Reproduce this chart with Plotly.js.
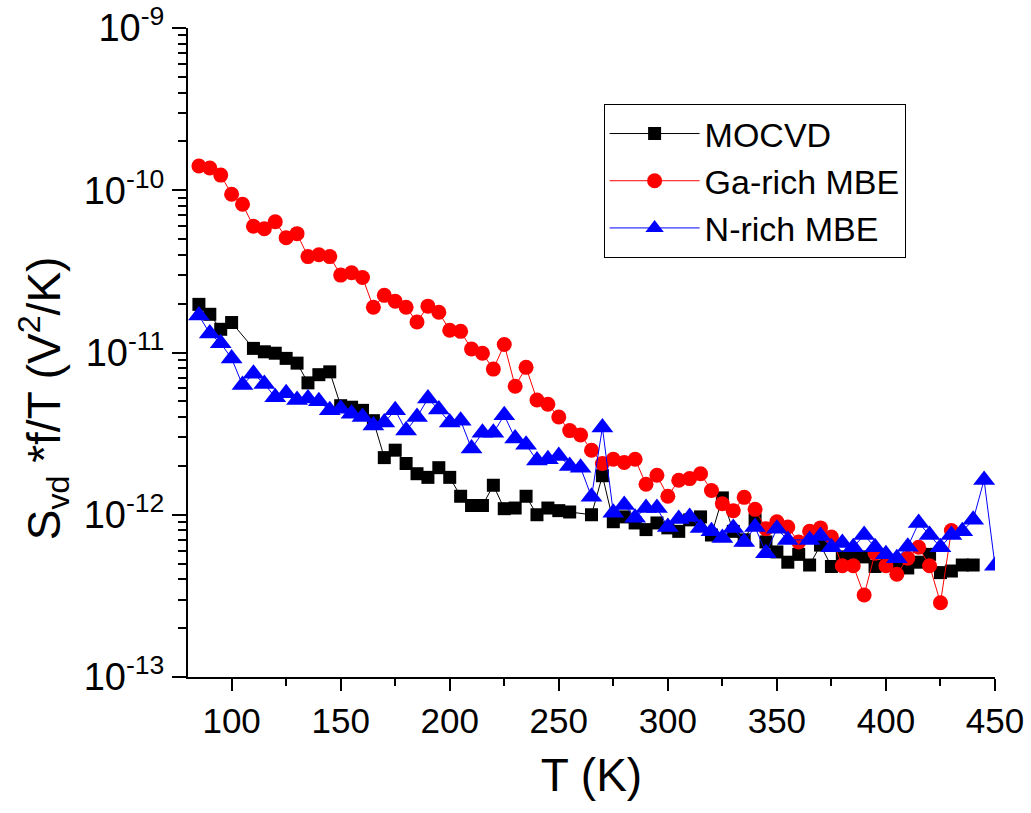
<!DOCTYPE html>
<html>
<head>
<meta charset="utf-8">
<script src="https://cdn.plot.ly/plotly-3.0.1.min.js"></script>
<style>html,body{margin:0;padding:0;background:#fff;}</style>
</head>
<body>
<div id="chart" style="width:1031px;height:813px;"></div>
<script>
// MOCVD
const tMOCVD = [85,90,95,100,110,115,120,125,130,135,140,145,150,155,160,165,170,175,180,185,190,195,200,205,210,215,220,225,230,235,240,245,250,255,265,270,275,280,285,290,295,300,305,310,315,320,325,330,335,340,345,350,355,360,365,370,375,380,385,390,395,400,405,410,415,420,425,430,435,440];
const sMOCVD = [1.98e-11,1.72e-11,1.39e-11,1.53e-11,1.06e-11,1.01e-11,9.9e-12,9.2e-12,8.6e-12,6.5e-12,7.3e-12,7.6e-12,4.7e-12,4.6e-12,4.4e-12,3.8e-12,2.25e-12,2.5e-12,2.07e-12,1.79e-12,1.7e-12,1.95e-12,1.7e-12,1.3e-12,1.14e-12,1.14e-12,1.52e-12,1.09e-12,1.1e-12,1.3e-12,1.0e-12,1.1e-12,1.06e-12,1.04e-12,1.0e-12,1.74e-12,9.06e-13,9.7e-13,8.9e-13,8.1e-13,8.9e-13,8.3e-13,7.9e-13,9.3e-13,9.7e-13,7.5e-13,1.27e-12,7.9e-13,7.0e-13,9.3e-13,6.8e-13,5.9e-13,5.1e-13,5.7e-13,4.9e-13,6.5e-13,4.8e-13,5.5e-13,5.4e-13,5.5e-13,4.8e-13,4.9e-13,4.9e-13,4.7e-13,5.1e-13,5.7e-13,4.4e-13,4.5e-13,4.9e-13,4.9e-13];

// Ga-rich MBE
const tGa = [85,90,95,100,105,110,115,120,125,130,135,140,145,150,155,160,165,170,175,180,185,190,195,200,205,210,215,220,225,230,235,240,245,250,255,260,265,270,275,280,285,290,295,300,305,310,315,320,325,330,335,340,345,350,355,360,365,370,375,380,385,390,395,400,405,410,415,420,425,430];
const sGa = [1.41e-10,1.37e-10,1.24e-10,9.45e-11,8.2e-11,6.0e-11,5.8e-11,6.4e-11,5.1e-11,5.4e-11,3.9e-11,4.0e-11,3.9e-11,3.0e-11,3.1e-11,2.9e-11,1.9e-11,2.25e-11,2.07e-11,1.9e-11,1.54e-11,1.93e-11,1.77e-11,1.37e-11,1.35e-11,1.05e-11,9.9e-12,7.9e-12,1.12e-11,6.2e-12,8.1e-12,5.1e-12,4.8e-12,4.0e-12,3.3e-12,3.1e-12,2.5e-12,2.07e-12,2.2e-12,2.1e-12,2.2e-12,1.54e-12,1.75e-12,1.3e-12,1.63e-12,1.67e-12,1.79e-12,1.41e-12,1.17e-12,1.06e-12,1.28e-12,1.08e-12,8.2e-13,9.06e-13,8.4e-13,6.8e-13,7.9e-13,8.3e-13,7.3e-13,4.85e-13,4.85e-13,3.2e-13,5.8e-13,4.85e-13,4.3e-13,5.4e-13,6.3e-13,4.85e-13,2.87e-13,8.0e-13];

// N-rich MBE
const tN = [85,90,95,100,105,110,115,120,125,130,135,140,145,150,155,160,165,170,175,180,185,190,195,200,205,210,215,220,225,230,235,240,245,250,255,260,265,270,275,280,285,290,295,300,305,310,315,320,325,330,335,340,345,350,355,365,370,375,380,385,390,395,400,405,410,415,420,425,430,435,440,445,450];
const sN = [1.69e-11,1.31e-11,1.14e-11,9.2e-12,6.3e-12,7.4e-12,6.4e-12,5.3e-12,5.6e-12,5.1e-12,5.2e-12,5.0e-12,4.4e-12,4.5e-12,4.2e-12,4.0e-12,3.55e-12,3.7e-12,4.4e-12,3.3e-12,4.0e-12,5.2e-12,4.45e-12,3.7e-12,3.8e-12,2.56e-12,3.2e-12,3.2e-12,4.1e-12,2.95e-12,2.7e-12,2.16e-12,2.2e-12,2.3e-12,2.0e-12,1.95e-12,1.29e-12,3.45e-12,1.03e-12,1.15e-12,9.6e-13,1.1e-12,1.1e-12,8.4e-13,9.4e-13,9.7e-13,8.3e-13,7.9e-13,7.2e-13,8.3e-13,6.8e-13,8.4e-13,5.8e-13,8.2e-13,7.0e-13,7.0e-13,7.4e-13,6.3e-13,6.7e-13,6.3e-13,7.5e-13,6.3e-13,5.7e-13,5.4e-13,6.35e-13,8.9e-13,7.5e-13,6.3e-13,7.5e-13,7.9e-13,9.3e-13,1.64e-12,4.85e-13];

const seriesNames = ['MOCVD','Ga-rich MBE','N-rich MBE'];
const yTickVals = [1e-13,1e-12,1e-11,1e-10,1e-9];
const yTickText = ['10<sup>-13</sup>','10<sup>-12</sup>','10<sup>-11</sup>','10<sup>-10</sup>','10<sup>-9</sup>'];
const xTitle = 'T (K)';
const yTitle = 'S<sub>vd</sub> *f/T (V<sup>2</sup>/K)';

const FONT = 'Liberation Sans, Arial, sans-serif';

const traces = [
  {x:tMOCVD, y:sMOCVD, name:seriesNames[0], type:'scatter', mode:'lines+markers',
   line:{color:'#000000', width:1}, marker:{symbol:'square', size:13, color:'#000000'}},
  {x:tGa, y:sGa, name:seriesNames[1], type:'scatter', mode:'lines+markers',
   line:{color:'#ff0000', width:1}, marker:{symbol:'circle', size:15, color:'#ff0000'}},
  {x:tN, y:sN, name:seriesNames[2], type:'scatter', mode:'lines+markers',
   line:{color:'#0000ff', width:1}, marker:{symbol:'triangle-up', size:19, color:'#0000ff'}}
];

const layout = {
  width:1031, height:813,
  margin:{l:188, r:36, t:28, b:136, pad:0},
  paper_bgcolor:'#ffffff', plot_bgcolor:'#ffffff',
  showlegend:true,
  font:{family:FONT, color:'#000'},
  xaxis:{
    range:[80,450], tick0:0, dtick:50, showgrid:false, zeroline:false,
    showline:true, linecolor:'#000', linewidth:2,
    ticks:'outside', ticklen:12, tickwidth:2, tickcolor:'#000',
    minor:{ticks:'outside', ticklen:7, tickwidth:2, tickcolor:'#000', dtick:25, tick0:0, showgrid:false},
    tickfont:{family:'Liberation Sans Narrow, Arial Narrow, Liberation Sans, sans-serif', size:35},
    title:{text:xTitle, font:{family:FONT, size:46}, standoff:20}
  },
  xaxis2:{
    overlaying:'x', side:'top', range:[80,450], tick0:0, dtick:50, showgrid:false, zeroline:false,
    showline:true, linecolor:'#000', linewidth:2,
    ticks:'inside', ticklen:12, tickwidth:2, tickcolor:'#000', showticklabels:false,
    minor:{ticks:'inside', ticklen:7, tickwidth:2, tickcolor:'#000', dtick:25, tick0:0, showgrid:false}
  },
  yaxis:{
    type:'log', range:[-13,-9], showgrid:false, zeroline:false,
    showline:true, linecolor:'#000', linewidth:2,
    tickvals:yTickVals, ticktext:yTickText,
    ticks:'outside', ticklen:14, tickwidth:2, tickcolor:'#000',
    minor:{ticks:'outside', ticklen:8, tickwidth:2, tickcolor:'#000', dtick:'D1', showgrid:false},
    tickfont:{family:FONT, size:38}
  },
  yaxis2:{
    overlaying:'y', side:'right', type:'log', range:[-13,-9], showgrid:false, zeroline:false,
    showline:true, linecolor:'#000', linewidth:2,
    tickvals:yTickVals, showticklabels:false,
    ticks:'inside', ticklen:14, tickwidth:2, tickcolor:'#000',
    minor:{ticks:'inside', ticklen:8, tickwidth:2, tickcolor:'#000', dtick:'D1', showgrid:false}
  },
  annotations:[{
    text:yTitle, textangle:-90, showarrow:false,
    xref:'paper', yref:'paper', x:-0.178, y:0.43, xanchor:'center', yanchor:'middle',
    font:{family:FONT, size:46}
  }],
  legend:{
    x:0.515, y:0.883, xanchor:'left', yanchor:'top',
    bgcolor:'#ffffff', bordercolor:'#000', borderwidth:1,
    font:{family:FONT, size:34}, itemwidth:90, tracegroupgap:0
  }
};

Plotly.newPlot('chart', traces, layout, {displayModeBar:false, staticPlot:true});
</script>
</body>
</html>
